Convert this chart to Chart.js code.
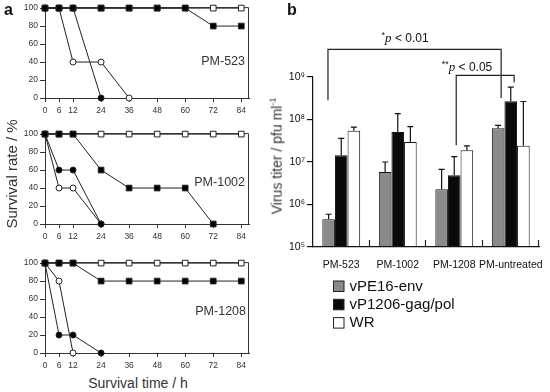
<!DOCTYPE html>
<html>
<head>
<meta charset="utf-8">
<script src="https://cdn.jsdelivr.net/npm/chart.js@4.4.0/dist/chart.umd.min.js"></script>
<style>
body { margin: 0; background: #fff; }
#wrap { position: relative; width: 550px; height: 392px; overflow: hidden; background: #fff;
        font-family: "Liberation Sans", Arial, sans-serif; color: #333; }
canvas { position: absolute; }
.lbl { position: absolute; white-space: nowrap; font-weight: 400; }
.rot { transform: translate(-50%, -50%) rotate(-90deg); }
</style>
</head>
<body>
<div id="wrap">
  <canvas id="pm523" width="262" height="118" style="left:0;top:0"></canvas>
  <canvas id="pm1002" width="262" height="118" style="left:0;top:126px"></canvas>
  <canvas id="pm1208" width="262" height="118" style="left:0;top:255px"></canvas>
  <canvas id="titer" width="280" height="340" style="left:270px;top:0"></canvas>

  <div class="lbl" style="left:4px;top:1px;font-size:16px;font-weight:bold;color:#111">a</div>
  <div class="lbl" style="left:287px;top:1px;font-size:16px;font-weight:bold;color:#111">b</div>
  <div class="lbl" style="right:305px;top:54px;font-size:12.5px">PM-523</div>
  <div class="lbl" style="right:305px;top:175px;font-size:12.5px">PM-1002</div>
  <div class="lbl" style="right:304px;top:304px;font-size:12.5px">PM-1208</div>
  <div class="lbl" style="left:0;width:276px;text-align:center;top:375px;font-size:14px">Survival time / h</div>
  <div class="lbl rot" style="left:11px;top:174px;font-size:15px">Survival rate / %</div>
  <div class="lbl rot" style="left:276px;top:156px;font-size:14px">Virus titer / pfu ml<sup style="font-size:9px">-1</sup></div>
</div>

<script>
// survival curves (panel a)
var hours = [0, 6, 12, 24, 36, 48, 60, 72, 84];
var survivalTicks = [0, 20, 40, 60, 80, 100];

var pm523FilledSq   = [100, 100, 100, 100, 100, 100, 100, 80, 80];
var pm523OpenSq     = [100, 100, 100, 100, 100, 100, 100, 100, 100];
var pm523FilledCirc = [100, 100, 100, 0];
var pm523OpenCirc   = [100, 100, 40, 40, 0];

var pm1002FilledSq   = [100, 100, 100, 60, 40, 40, 40, 0];
var pm1002OpenSq     = [100, 100, 100, 100, 100, 100, 100, 100, 100];
var pm1002FilledCirc = [100, 60, 60, 0];
var pm1002OpenCirc   = [100, 40, 40, 0];

var pm1208FilledSq   = [100, 100, 100, 80, 80, 80, 80, 80, 80];
var pm1208OpenSq     = [100, 100, 100, 100, 100, 100, 100, 100, 100];
var pm1208FilledCirc = [100, 20, 20, 0];
var pm1208OpenCirc   = [100, 80, 0];

// virus titers (panel b), bar height and top of error bar
var groups = ['PM-523', 'PM-1002', 'PM-1208', 'PM-untreated'];
var envTiter = [4.5e5, 5.8e6, 2.3e6, 6.2e7];
var envErr   = [5.9e5, 1.0e7, 6.7e6, 7.3e7];
var gagTiter = [1.45e7, 5.1e7, 4.9e6, 2.7e8];
var gagErr   = [3.6e7, 1.38e8, 1.34e7, 5.8e8];
var wrTiter  = [5.4e7, 2.95e7, 1.9e7, 2.4e7];
var wrErr    = [6.6e7, 6.8e7, 2.4e7, 2.65e8];
var titerTicks = [1e5, 1e6, 1e7, 1e8, 1e9];
var titerTickLabels = ['10\u2075', '10\u2076', '10\u2077', '10\u2078', '10\u2079'];

var ink = '#222';
var FONT = '"Liberation Sans", Arial, sans-serif';

function points(vals) {
    return vals.map(function (v, i) { return { x: hours[i], y: v }; });
}

function lineSet(vals, shape, filled) {
    return {
        data: points(vals),
        borderColor: ink,
        borderWidth: 1,
        pointStyle: shape,
        pointRadius: shape === 'rect' ? 4 : 3,
        pointBackgroundColor: filled ? '#000' : '#fff',
        pointBorderColor: ink,
        pointBorderWidth: 1,
        tension: 0,
        clip: false
    };
}

// top and right edges of the box round each survival plot
var framePlugin = {
    id: 'frame',
    beforeDatasetsDraw: function (chart) {
        var a = chart.chartArea, ctx = chart.ctx;
        ctx.save();
        ctx.strokeStyle = '#333';
        ctx.lineWidth = 1;
        ctx.beginPath();
        ctx.moveTo(a.left, a.top + 0.5);
        ctx.lineTo(a.right - 0.5, a.top + 0.5);
        ctx.lineTo(a.right - 0.5, a.bottom);
        ctx.stroke();
        ctx.restore();
    }
};

function survivalChart(id, filledSq, openSq, filledCirc, openCirc) {
    var ctx = document.getElementById(id).getContext('2d');
    return new Chart(ctx, {
        type: 'line',
        data: {
            datasets: [
                lineSet(filledSq, 'rect', true),
                lineSet(openSq, 'rect', false),
                lineSet(filledCirc, 'circle', true),
                lineSet(openCirc, 'circle', false)
            ]
        },
        options: {
            responsive: false,
            animation: false,
            devicePixelRatio: 1,
            layout: { padding: { top: 6, right: 13, left: 0, bottom: 0 } },
            plugins: { legend: { display: false }, tooltip: { enabled: false } },
            scales: {
                x: {
                    type: 'linear', min: 0, max: 87.3,
                    afterBuildTicks: function (s) { s.ticks = hours.map(function (v) { return { value: v }; }); },
                    afterFit: function (s) { s.height = 20; },
                    ticks: { color: '#333', padding: 4, maxRotation: 0, autoSkip: false, font: { family: FONT, size: 8.5 } },
                    grid: { drawOnChartArea: false, tickLength: 4, color: '#333' },
                    border: { color: '#333' }
                },
                y: {
                    type: 'linear', min: 0, max: 101.1,
                    afterBuildTicks: function (s) { s.ticks = survivalTicks.map(function (v) { return { value: v }; }); },
                    afterFit: function (s) { s.width = 45; },
                    ticks: { color: '#333', padding: 2, font: { family: FONT, size: 8.5 } },
                    grid: { drawOnChartArea: false, tickLength: 5, color: '#333' },
                    border: { color: '#333' }
                }
            }
        },
        plugins: [framePlugin]
    });
}

survivalChart('pm523', pm523FilledSq, pm523OpenSq, pm523FilledCirc, pm523OpenCirc);
survivalChart('pm1002', pm1002FilledSq, pm1002OpenSq, pm1002FilledCirc, pm1002OpenCirc);
survivalChart('pm1208', pm1208FilledSq, pm1208OpenSq, pm1208FilledCirc, pm1208OpenCirc);

// significance brackets, in category index / titer units
var brackets = [
    { stars: '*', text: ' < 0.01', x0: -0.235, x1: 2.83, top: Math.pow(10, 9.652),
      y0: Math.pow(10, 8.452), y1: Math.pow(10, 8.506), tx: 1.13, ty: Math.pow(10, 9.904) },
    { stars: '**', text: ' < 0.05', x0: 2.035, x1: 3.06, top: Math.pow(10, 9.04),
      y0: Math.pow(10, 7.393), y1: Math.pow(10, 8.868), tx: 2.225, ty: Math.pow(10, 9.212) }
];

var errorBarPlugin = {
    id: 'errorBars',
    afterDatasetsDraw: function (chart) {
        var ctx = chart.ctx, y = chart.scales.y;
        ctx.save();
        ctx.strokeStyle = '#111';
        ctx.lineWidth = 1.2;
        chart.data.datasets.forEach(function (ds, i) {
            chart.getDatasetMeta(i).data.forEach(function (bar, j) {
                var yt = y.getPixelForValue(ds.errHi[j]);
                ctx.beginPath();
                ctx.moveTo(bar.x, bar.y);
                ctx.lineTo(bar.x, yt);
                ctx.moveTo(bar.x - 3, yt);
                ctx.lineTo(bar.x + 3, yt);
                ctx.stroke();
            });
        });
        ctx.restore();
    }
};

var annotatePlugin = {
    id: 'annotate',
    afterDraw: function (chart) {
        var ctx = chart.ctx, x = chart.scales.x, y = chart.scales.y, a = chart.chartArea;
        ctx.save();
        ctx.strokeStyle = '#222';
        ctx.fillStyle = '#111';
        ctx.lineWidth = 1.2;

        // small inward ticks between groups on the base line
        ctx.beginPath();
        for (var g = 0; g < groups.length; g++) {
            var px = Math.round(x.getPixelForValue(g + 0.5)) - 0.5;
            ctx.moveTo(px, a.bottom);
            ctx.lineTo(px, a.bottom - 7);
        }
        ctx.stroke();

        brackets.forEach(function (b) {
            var xl = x.getPixelForValue(b.x0), xr = x.getPixelForValue(b.x1);
            var yt = y.getPixelForValue(b.top);
            ctx.beginPath();
            ctx.moveTo(xl, y.getPixelForValue(b.y0));
            ctx.lineTo(xl, yt);
            ctx.lineTo(xr, yt);
            ctx.lineTo(xr, y.getPixelForValue(b.y1));
            ctx.stroke();

            var starFont = '9px ' + FONT, pFont = 'italic 13px "Liberation Serif", "Times New Roman", serif',
                tFont = '12px ' + FONT;
            ctx.font = starFont; var w1 = ctx.measureText(b.stars).width;
            ctx.font = pFont; var w2 = ctx.measureText('p').width;
            ctx.font = tFont; var w3 = ctx.measureText(b.text).width;
            var cx = x.getPixelForValue(b.tx) - (w1 + w2 + w3) / 2, cy = y.getPixelForValue(b.ty);
            ctx.textBaseline = 'middle';
            ctx.textAlign = 'left';
            ctx.font = starFont; ctx.fillText(b.stars, cx, cy - 3);
            ctx.font = pFont; ctx.fillText('p', cx + w1, cy);
            ctx.font = tFont; ctx.fillText(b.text, cx + w1 + w2, cy);
        });

        // legend under the axis
        ctx.lineWidth = 1;
        ctx.textBaseline = 'middle';
        ctx.font = '15px ' + FONT;
        chart.data.datasets.forEach(function (ds, i) {
            var top = 281 + i * 18.3;
            ctx.fillStyle = ds.backgroundColor;
            ctx.fillRect(63.5, top, 10.5, 10.5);
            ctx.strokeStyle = '#222';
            ctx.strokeRect(63.5, top, 10.5, 10.5);
            ctx.fillStyle = '#111';
            ctx.fillText(ds.label, 79.5, top + 5.5);
        });
        ctx.restore();
    }
};

function barSet(label, vals, errs, fill) {
    return {
        label: label,
        data: vals,
        errHi: errs,
        backgroundColor: fill,
        borderColor: '#111',
        borderWidth: 1,
        borderSkipped: false,
        categoryPercentage: 0.67,
        barPercentage: 1.0
    };
}

var ctxB = document.getElementById('titer').getContext('2d');
new Chart(ctxB, {
    type: 'bar',
    data: {
        labels: groups,
        datasets: [
            barSet('vPE16-env', envTiter, envErr, '#8a8a8a'),
            barSet('vP1206-gag/pol', gagTiter, gagErr, '#0a0a0a'),
            barSet('WR', wrTiter, wrErr, '#ffffff')
        ]
    },
    options: {
        responsive: false,
        animation: false,
        devicePixelRatio: 1,
        layout: { padding: { top: 77, right: 11, left: 0, bottom: 72 } },
        plugins: { legend: { display: false }, tooltip: { enabled: false } },
        scales: {
            x: {
                afterFit: function (s) { s.height = 21; },
                ticks: { color: '#111', padding: 4, maxRotation: 0, autoSkip: false, font: { family: FONT, size: 10.5 } },
                grid: { display: false },
                border: { display: true, color: '#111', width: 1.2 }
            },
            y: {
                type: 'logarithmic', min: 1e5, max: 1e9,
                afterBuildTicks: function (s) { s.ticks = titerTicks.map(function (v) { return { value: v }; }); },
                afterFit: function (s) { s.width = 43; },
                ticks: {
                    color: '#111', padding: 2, font: { family: FONT, size: 10.5 },
                    callback: function (v) { return titerTickLabels[titerTicks.indexOf(v)]; }
                },
                grid: { drawOnChartArea: false, tickLength: 6, color: '#111', lineWidth: 1.2 },
                border: { color: '#111', width: 1.2 }
            }
        }
    },
    plugins: [errorBarPlugin, annotatePlugin]
});
</script>
</body>
</html>
